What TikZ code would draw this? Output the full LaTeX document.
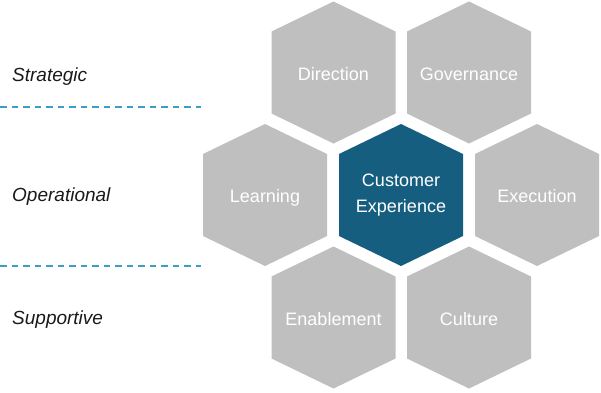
\documentclass[tikz,border=0pt]{standalone}
\usepackage{fontspec}
\setmainfont{Liberation Sans}
\usepackage{tikz}
\usetikzlibrary{positioning}

\definecolor{hexgray}{HTML}{BFBFBF}
\definecolor{hexblue}{RGB}{22,94,128}
\definecolor{dashblue}{HTML}{3C9DC9}

\begin{document}
\begin{tikzpicture}[x=1pt, y=-1pt,
  every node/.style={inner sep=0pt},
  hexlabel/.style={text=white, font=\fontsize{18}{26}\selectfont, align=center,
    execute at begin node=\strut, yshift=-2.5pt},
  layerlabel/.style={anchor=base west, font=\fontsize{19}{22}\selectfont\itshape, text=black!90},
  layerline/.style={draw=dashblue, line width=2pt, dash pattern=on 6.5pt off 5pt}]
\useasboundingbox (0,0) rectangle (601,392);

% hexagons
\foreach \cx/\cy/\col/\name/\txt in {
    333.5/72.5/hexgray/dir/Direction,
    469/72.5/hexgray/gov/Governance,
    265/195/hexgray/learn/Learning,
    401/195/hexblue/cx/Customer\\\strut Experience,
    537/195/hexgray/exec/Execution,
    333.5/317.5/hexgray/enab/Enablement,
    469/317.5/hexgray/cult/Culture} {
  \fill[\col] (\cx,\cy) +(0,-71) -- +(62,-41) -- +(62,41) -- +(0,71)
    -- +(-62,41) -- +(-62,-41) -- cycle;
  \node[hexlabel] (\name) at (\cx,\cy) {\txt};
}

% layers
\node[layerlabel] (strat) at (12,81) {Strategic};
\node[layerlabel] (oper) at (12,201) {Operational};
\node[layerlabel] (supp) at (12,324) {Supportive};

\coordinate (l1a) at (0,106.5);
\coordinate (l1b) at (201,106.5);
\coordinate (l2a) at (0,265.5);
\coordinate (l2b) at (201,265.5);
\draw[layerline] (l1a) -- (l1b);
\draw[layerline] (l2a) -- (l2b);
\end{tikzpicture}
\end{document}
